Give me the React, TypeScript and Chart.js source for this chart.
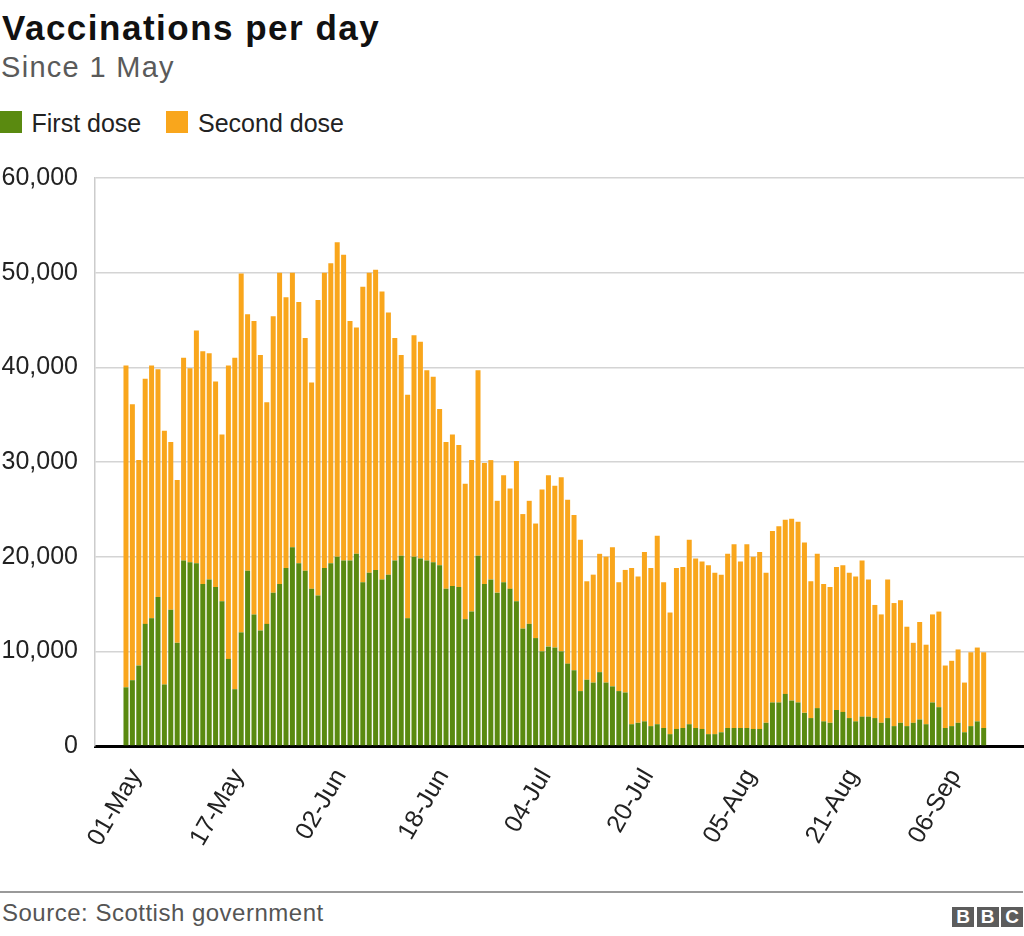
import React, { useEffect, useRef } from "react";
import { Chart, registerables } from "chart.js";

Chart.register(...registerables);

// Daily vaccinations since 1 May (day index 0 = 01-May)
const firstDose = [
  6200, 6950, 8500, 12900, 13500, 15750, 6500, 14400, 10900, 19600,
  19400, 19300, 17100, 17600, 16800, 15300, 9200, 6000, 12000, 18500,
  13900, 12200, 12900, 16200, 17100, 18800, 21000, 19300, 18500, 16600,
  15900, 18800, 19300, 20000, 19600, 19600, 20300, 17300, 18300, 18600,
  17600, 18100, 19600, 20100, 13500, 20000, 19800, 19600, 19400, 19100,
  16600, 16900, 16800, 13400, 14200, 20100, 17100, 17600, 16200, 17300,
  16600, 15300, 12400, 12900, 11400, 10000, 10500, 10400, 10000, 8700,
  8000, 5800, 7000, 6700, 7800, 6700, 6300, 5800, 5650, 2300,
  2450, 2600, 2100, 2300, 1900, 1250, 1800, 1900, 2300, 1900,
  1800, 1250, 1250, 1450, 1900, 1900, 1900, 1900, 1800, 1800,
  2450, 4600, 4600, 5500, 4800, 4600, 3500, 2950, 4000, 2600,
  2450, 3800, 3600, 2950, 2600, 3100, 3100, 2950, 2450, 2950,
  2100, 2450, 2100, 2450, 2800, 2300, 4600, 4100, 1900, 2100,
  2450, 1450, 2100, 2600, 1900,
];

const secondDose = [
  34000, 29150, 21700, 25900, 26700, 24050, 26800, 17700, 17200, 21400,
  20500, 24600, 24600, 23900, 21700, 17600, 31000, 35000, 37900, 27100,
  31000, 29100, 23400, 29200, 32900, 28600, 29000, 27600, 24600, 21800,
  31200, 31200, 31700, 33200, 32300, 25300, 23900, 31200, 31700, 31700,
  30400, 27700, 23500, 21200, 23600, 23400, 22900, 20100, 19600, 16500,
  15500, 16000, 15000, 14300, 16000, 19600, 12800, 12600, 9700, 11300,
  10600, 14800, 12100, 13000, 12100, 17100, 18100, 17100, 18400, 17300,
  16400, 16000, 10400, 11400, 12500, 13300, 14700, 11500, 12950, 16500,
  15450, 17900, 16700, 19900, 15400, 12850, 17000, 17000, 19500, 17900,
  17700, 17850, 17050, 16650, 18400, 19400, 17600, 19400, 18200, 18700,
  15850, 18100, 18600, 18400, 19200, 19100, 18000, 14450, 16300, 14500,
  14350, 15100, 15500, 15350, 15300, 16500, 14500, 11950, 11450, 14650,
  13000, 12950, 10500, 8450, 10300, 8400, 9300, 10100, 6600, 6900,
  7750, 5250, 7800, 7800, 8000,
];

const tickLabels = ["01-May", "17-May", "02-Jun", "18-Jun", "04-Jul", "20-Jul", "05-Aug", "21-Aug", "06-Sep"];
const tickDays = [0, 16, 32, 48, 64, 80, 96, 112, 128];
const seriesNames = ["First dose", "Second dose"];

const GREEN = "#5a8a10";
const ORANGE = "#f9a61c";
const FONT = "'Liberation Sans', Arial, Helvetica, sans-serif";

export default function App() {
  const canvasRef = useRef<HTMLCanvasElement | null>(null);

  useEffect(() => {
    const canvas = canvasRef.current;
    if (!canvas) return;
    const chart = new Chart(canvas, {
      type: "bar",
      data: {
        datasets: [
          {
            label: seriesNames[0],
            data: firstDose.map((v, i) => ({ x: i, y: v })),
            backgroundColor: GREEN,
            barPercentage: 0.78,
            categoryPercentage: 1,
            stack: "s",
          },
          {
            label: seriesNames[1],
            data: secondDose.map((v, i) => ({ x: i, y: v })),
            backgroundColor: ORANGE,
            barPercentage: 0.78,
            categoryPercentage: 1,
            stack: "s",
          },
        ],
      },
      options: {
        animation: false,
        responsive: false,
        maintainAspectRatio: false,
        layout: { padding: 0 },
        plugins: {
          legend: { display: false },
          tooltip: { enabled: false },
        },
        scales: {
          x: {
            type: "linear",
            stacked: true,
            min: -4.84,
            max: 140.3,
            offset: false,
            grid: { display: false, drawTicks: false },
            border: { display: true, color: "#000000", width: 3 },
            afterBuildTicks: (scale: any) => {
              scale.ticks = tickDays.map((v) => ({ value: v }));
            },
            afterFit: (scale: any) => {
              scale.height = 120;
            },
            ticks: {
              autoSkip: false,
              minRotation: 60,
              maxRotation: 60,
              color: "#222222",
              padding: 18,
              labelOffset: 10,
              font: { size: 25, family: FONT },
              callback: (v: any) => {
                const k = tickDays.indexOf(Math.round(Number(v)));
                return k >= 0 ? tickLabels[k] : "";
              },
            },
          },
          y: {
            stacked: true,
            min: 0,
            max: 60000,
            afterFit: (scale: any) => {
              scale.width = 95;
            },
            grid: { color: "#d4d4d4", lineWidth: 1.5, drawTicks: false },
            border: { display: true, color: "#cccccc", width: 1.5 },
            ticks: {
              stepSize: 10000,
              color: "#222222",
              padding: 17,
              font: { size: 25, family: FONT },
              callback: (v: any) => Number(v).toLocaleString("en-US"),
            },
          },
        },
      },
    } as any);
    return () => chart.destroy();
  }, []);

  return (
    <div style={{ position: "absolute", left: 0, top: 0, width: 1024, height: 936, background: "#fff", fontFamily: FONT, overflow: "hidden" }}>
      <div style={{ position: "absolute", left: 2, top: 10, fontSize: 35, lineHeight: 1, fontWeight: 700, color: "#111", letterSpacing: 1.5, whiteSpace: "nowrap" }}>
        Vaccinations per day
      </div>
      <div style={{ position: "absolute", left: 1, top: 52.5, fontSize: 29, lineHeight: 1, color: "#5a5a5a", letterSpacing: 1.3, whiteSpace: "nowrap" }}>
        Since 1 May
      </div>
      <div style={{ position: "absolute", left: 0, top: 110.7, width: 22, height: 22, background: GREEN }} />
      <div style={{ position: "absolute", left: 31.5, top: 111, fontSize: 25, lineHeight: 1, color: "#222", whiteSpace: "nowrap" }}>
        {seriesNames[0]}
      </div>
      <div style={{ position: "absolute", left: 166, top: 110.7, width: 22, height: 22, background: ORANGE }} />
      <div style={{ position: "absolute", left: 198, top: 111, fontSize: 25, lineHeight: 1, color: "#222", whiteSpace: "nowrap" }}>
        {seriesNames[1]}
      </div>
      <div style={{ position: "absolute", left: 0, top: 146, width: 1024, height: 720 }}>
        <canvas ref={canvasRef} width={1024} height={720} style={{ width: 1024, height: 720, display: "block" }} />
      </div>
      <div style={{ position: "absolute", left: 0, top: 890.5, width: 1023, height: 2, background: "#999" }} />
      <div style={{ position: "absolute", left: 2, top: 901, fontSize: 24, lineHeight: 1, color: "#555", letterSpacing: 0.5, whiteSpace: "nowrap" }}>
        Source: Scottish government
      </div>
      {["B", "B", "C"].map((ch, i) => (
        <div
          key={i}
          style={{
            position: "absolute",
            left: 952 + i * 24.5,
            top: 907,
            width: 22,
            height: 20,
            background: "#5c5c5c",
            color: "#fff",
            fontWeight: 700,
            fontSize: 19,
            lineHeight: "20px",
            textAlign: "center",
          }}
        >
          {ch}
        </div>
      ))}
    </div>
  );
}
